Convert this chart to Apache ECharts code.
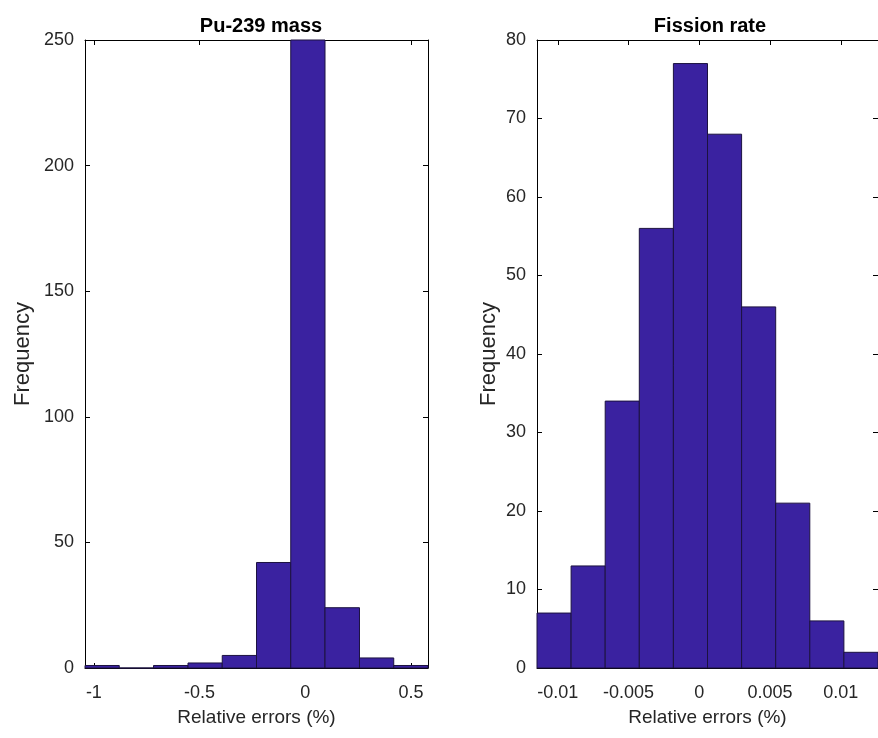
<!DOCTYPE html>
<html>
<head>
<meta charset="utf-8">
<script src="https://cdn.jsdelivr.net/npm/echarts@6/dist/echarts.min.js"></script>
<style>
html,body{margin:0;padding:0;background:#fff;}
#chart{width:878px;height:738px;}
</style>
</head>
<body>
<div id="chart"></div>
<script>
// ---- data ----
const puTitle = 'Pu-239 mass';
const puEdges = [-1.042, -0.880, -0.718, -0.555, -0.393, -0.231, -0.069, 0.093, 0.256, 0.418, 0.580];
const puCounts = [1, 0, 1, 2, 5, 42, 250, 24, 4, 1];
const puXTicks = [-1, -0.5, 0, 0.5];
const puXTickLabels = ['-1', '-0.5', '0', '0.5'];

const frTitle = 'Fission rate';
const frEdges = [-0.01147, -0.00906, -0.00665, -0.00424, -0.00183, 0.00058, 0.00299, 0.00540, 0.00781, 0.01022, 0.01263];
const frCounts = [7, 13, 34, 56, 77, 68, 46, 21, 6, 2];
const frXTicks = [-0.01, -0.005, 0, 0.005, 0.01];
const frXTickLabels = ['-0.01', '-0.005', '0', '0.005', '0.01'];

const xLabel = 'Relative errors (%)';
const yLabel = 'Frequency';

// ---- build ----
const barColor = '#3a22a0';
const textColor = '#262626';
const font = 'Liberation Sans, Arial, Helvetica, sans-serif';

function histData(edges, counts) {
  return counts.map((c, i) => [edges[i], edges[i + 1], c]);
}

function renderBin(params, api) {
  const p0 = api.coord([api.value(0), 0]);
  const p1 = api.coord([api.value(1), api.value(2)]);
  const rect = echarts.graphic.clipRectByRect({
    x: p0[0], y: p1[1], width: p1[0] - p0[0], height: p0[1] - p1[1]
  }, {
    x: params.coordSys.x, y: params.coordSys.y,
    width: params.coordSys.width, height: params.coordSys.height
  });
  return rect && {
    type: 'rect',
    shape: rect,
    style: { fill: barColor, stroke: '#1c1240', lineWidth: 1 }
  };
}

const grids = [
  { left: 85, top: 40, width: 343, height: 628 },
  { left: 537, top: 40, width: 345, height: 628 }
];

function xAxes(gi, min, max, ticks, labels) {
  const map = {};
  ticks.forEach((t, i) => map[t] = labels[i]);
  return [
    {
      type: 'value', gridIndex: gi, position: 'bottom', min, max,
      name: xLabel, nameLocation: 'middle', nameGap: 40,
      nameTextStyle: { fontSize: 19, color: textColor, fontFamily: font },
      axisLine: { show: true, onZero: false, lineStyle: { color: '#000', width: 1 } },
      axisTick: { show: true, inside: true, length: 5, customValues: ticks, lineStyle: { color: '#000' } },
      axisLabel: { show: true, customValues: ticks, margin: 16, fontSize: 18, color: textColor, fontFamily: font,
        formatter: v => map[v] !== undefined ? map[v] : String(v) },
      splitLine: { show: false }
    },
    {
      type: 'value', gridIndex: gi, position: 'top', min, max,
      axisLine: { show: true, onZero: false, lineStyle: { color: '#000', width: 1 } },
      axisTick: { show: true, inside: true, length: 5, customValues: ticks, lineStyle: { color: '#000' } },
      axisLabel: { show: false },
      splitLine: { show: false }
    }
  ];
}

function yAxes(gi, max, interval, nameGap) {
  return [
    {
      type: 'value', gridIndex: gi, position: 'left', min: 0, max, interval,
      name: yLabel, nameLocation: 'middle', nameGap,
      nameTextStyle: { fontSize: 22, color: textColor, fontFamily: font },
      axisLine: { show: true, onZero: false, lineStyle: { color: '#000', width: 1 } },
      axisTick: { show: true, inside: true, length: 5, lineStyle: { color: '#000' } },
      axisLabel: { show: true, margin: 11, fontSize: 18, color: textColor, fontFamily: font },
      splitLine: { show: false }
    },
    {
      type: 'value', gridIndex: gi, position: 'right', min: 0, max, interval,
      axisLine: { show: true, onZero: false, lineStyle: { color: '#000', width: 1 } },
      axisTick: { show: true, inside: true, length: 5, lineStyle: { color: '#000' } },
      axisLabel: { show: false },
      splitLine: { show: false }
    }
  ];
}

const option = {
  backgroundColor: '#fff',
  animation: false,
  title: [
    { text: puTitle, left: 256, top: 11, textAlign: 'center',
      textStyle: { fontSize: 20, fontWeight: 'bold', color: '#000', fontFamily: font } },
    { text: frTitle, left: 705, top: 11, textAlign: 'center',
      textStyle: { fontSize: 20, fontWeight: 'bold', color: '#000', fontFamily: font } }
  ],
  grid: grids,
  xAxis: [
    ...xAxes(0, puEdges[0], puEdges[puEdges.length - 1], puXTicks, puXTickLabels),
    ...xAxes(1, frEdges[0], frEdges[frEdges.length - 1], frXTicks, frXTickLabels)
  ],
  yAxis: [
    ...yAxes(0, 250, 50, 51),
    ...yAxes(1, 80, 10, 37)
  ],
  series: [
    { type: 'custom', xAxisIndex: 0, yAxisIndex: 0, renderItem: renderBin,
      encode: { x: [0, 1], y: 2 }, data: histData(puEdges, puCounts), z: 1 },
    { type: 'custom', xAxisIndex: 2, yAxisIndex: 2, renderItem: renderBin,
      encode: { x: [0, 1], y: 2 }, data: histData(frEdges, frCounts), z: 1 }
  ]
};

const chart = echarts.init(document.getElementById('chart'), null, { renderer: 'canvas' });
chart.setOption(option);
</script>
</body>
</html>
